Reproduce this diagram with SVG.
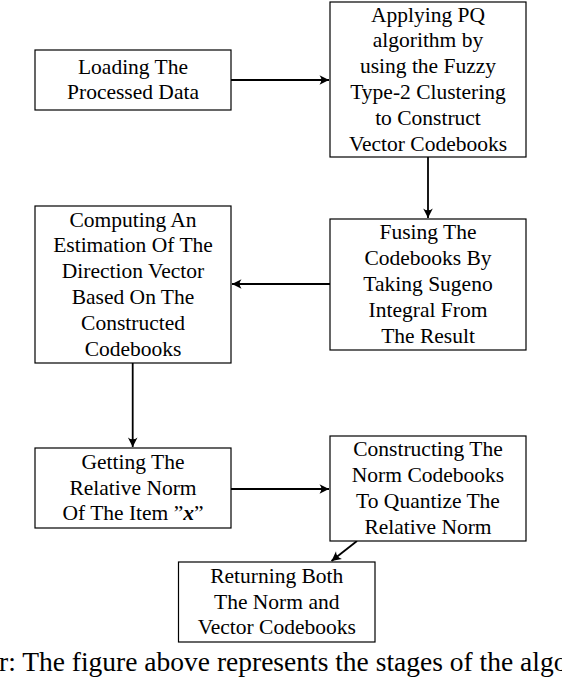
<svg xmlns="http://www.w3.org/2000/svg" width="562" height="678" viewBox="0 0 562 678">
<style>
.box{fill:#fff;stroke:#000;stroke-width:1.2}
.t{font-family:"Liberation Serif","Times New Roman",serif;font-size:21.5px;fill:#000;text-anchor:middle}
.cap{font-family:"Liberation Serif","Times New Roman",serif;font-size:27.5px;fill:#000}
.c{fill:none;stroke:#000;stroke-width:1.8}
</style>
<defs>
<marker id="ah" markerUnits="userSpaceOnUse" markerWidth="12" markerHeight="12" viewBox="-10 -6 12 12" refX="0" refY="0" orient="auto">
<path d="M0,0 L-9.5,-4.8 Q-5.8,0 -9.5,4.8 Z" fill="#000"/>
</marker>
</defs>
<rect width="562" height="678" fill="#fff"/>
<g id="connectors">
<line class="c" x1="231" y1="80" x2="329" y2="80" marker-end="url(#ah)"/>
<line class="c" x1="428" y1="157" x2="428" y2="218" marker-end="url(#ah)"/>
<line class="c" x1="330" y1="284" x2="232" y2="284" marker-end="url(#ah)"/>
<line class="c" x1="132.7" y1="363" x2="132.7" y2="447" marker-end="url(#ah)"/>
<line class="c" x1="231" y1="489" x2="329" y2="489" marker-end="url(#ah)"/>
<line class="c" x1="357" y1="541" x2="331.5" y2="561" marker-end="url(#ah)"/>
</g>
<g id="n1">
<rect class="box" x="35" y="50" width="196" height="60"/>
<text class="t" x="133" y="73.6">Loading The</text>
<text class="t" x="133" y="99.4">Processed Data</text>
</g>
<g id="n2">
<rect class="box" x="330" y="2" width="196" height="155"/>
<text class="t" x="428" y="21.5">Applying PQ</text>
<text class="t" x="428" y="47.3">algorithm by</text>
<text class="t" x="428" y="73.1">using the Fuzzy</text>
<text class="t" x="428" y="98.9">Type-2 Clustering</text>
<text class="t" x="428" y="124.7">to Construct</text>
<text class="t" x="428" y="150.5">Vector Codebooks</text>
</g>
<g id="n3">
<rect class="box" x="330" y="219" width="196" height="131"/>
<text class="t" x="428" y="239.4">Fusing The</text>
<text class="t" x="428" y="265.2">Codebooks By</text>
<text class="t" x="428" y="291">Taking Sugeno</text>
<text class="t" x="428" y="316.8">Integral From</text>
<text class="t" x="428" y="342.6">The Result</text>
</g>
<g id="n4">
<rect class="box" x="35" y="206" width="196" height="157"/>
<text class="t" x="133" y="226.5">Computing An</text>
<text class="t" x="133" y="252.3">Estimation Of The</text>
<text class="t" x="133" y="278.1">Direction Vector</text>
<text class="t" x="133" y="303.9">Based On The</text>
<text class="t" x="133" y="329.7">Constructed</text>
<text class="t" x="133" y="355.5">Codebooks</text>
</g>
<g id="n5">
<rect class="box" x="35" y="448" width="196" height="80"/>
<text class="t" x="133" y="468.7">Getting The</text>
<text class="t" x="133" y="494.5">Relative Norm</text>
<text class="t" x="133" y="520.3">Of The Item ”<tspan font-style="italic" font-weight="bold">x</tspan>”</text>
</g>
<g id="n6">
<rect class="box" x="330" y="436" width="196" height="105"/>
<text class="t" x="428" y="456.3">Constructing The</text>
<text class="t" x="428" y="482.1">Norm Codebooks</text>
<text class="t" x="428" y="507.9">To Quantize The</text>
<text class="t" x="428" y="533.7">Relative Norm</text>
</g>
<g id="n7">
<rect class="box" x="178.5" y="562" width="196.5" height="80"/>
<text class="t" x="276.75" y="582.7">Returning Both</text>
<text class="t" x="276.75" y="608.5">The Norm and</text>
<text class="t" x="276.75" y="634.3">Vector Codebooks</text>
</g>
<text class="cap" x="-1" y="671">r: The figure above represents the stages of the algo</text>
</svg>
